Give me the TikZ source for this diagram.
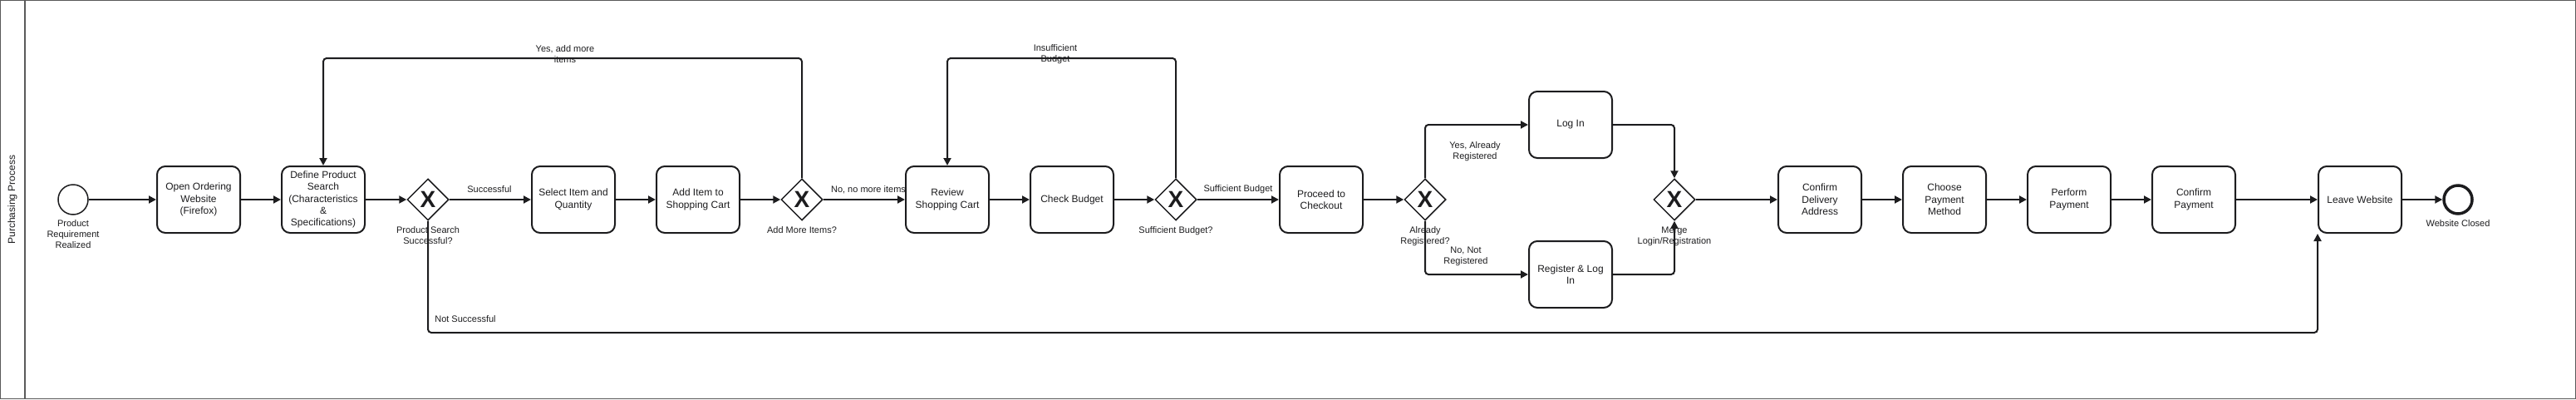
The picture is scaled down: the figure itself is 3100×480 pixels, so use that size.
\documentclass[tikz,border=0pt]{standalone}
\usepackage{fontspec}
\setmainfont{Liberation Sans}
\usepackage{tikz}
\usetikzlibrary{shapes,arrows.meta,positioning}
\usepackage{xcolor}
\definecolor{flowInk}{RGB}{28,28,30}
\definecolor{laneGray}{RGB}{90,90,90}
\tikzset{
  task/.style={rectangle,rounded corners=10pt,draw=flowInk,line width=2pt,
               minimum width=100pt,minimum height=80pt,inner sep=2pt,align=center,
               text=flowInk,font=\fontsize{12}{14.4}\selectfont},
  gateway/.style={diamond,draw=flowInk,line width=1.5pt,minimum width=50pt,
                  minimum height=50pt,inner sep=0pt,text=flowInk,
                  font=\fontsize{28}{28}\selectfont\bfseries},
  startevent/.style={circle,draw=flowInk,line width=1.5pt,minimum size=36pt,inner sep=0pt},
  endevent/.style={circle,draw=flowInk,line width=3.5pt,minimum size=34pt,inner sep=0pt},
  tag/.style={inner sep=0pt,align=center,text=flowInk,font=\fontsize{11}{13}\selectfont},
  flow/.style={draw=flowInk,line width=2pt,rounded corners=4pt,
               -{Triangle[length=9pt,width=9pt]}}
}
\begin{document}
\begin{tikzpicture}[x=1pt,y=-1pt]
    \useasboundingbox (0,0) rectangle (3100,480);
    \draw[laneGray,line width=1pt] (0.5,0.5) rectangle (3099.5,479.5);
    \draw[laneGray,line width=2pt] (30,0) -- (30,480);
    \node[rotate=90,text=flowInk,font=\fontsize{12}{14.4}\selectfont] (laneTitle) at (15,240) {Purchasing Process};

    \coordinate (topRail) at (0,70);
    \coordinate (bottomRail) at (0,400);

    \node[startevent] (startEv) at (88,240) {};
    \node[task] (openSite) at (239,240) {Open Ordering\\Website\\(Firefox)};
    \node[task] (defineSearch) at (389,240) {Define Product\\Search\\(Characteristics\\\&\\Specifications)};
    \node[gateway] (gwSearch) at (515,240) {X};
    \node[task] (selectItem) at (690,240) {Select Item and\\Quantity};
    \node[task] (addItem) at (840,240) {Add Item to\\Shopping Cart};
    \node[gateway] (gwMore) at (965,240) {X};
    \node[task] (reviewCart) at (1140,240) {Review\\Shopping Cart};
    \node[task] (checkBudget) at (1290,240) {Check Budget};
    \node[gateway] (gwBudget) at (1415,240) {X};
    \node[task] (checkout) at (1590,240) {Proceed to\\Checkout};
    \node[gateway] (gwReg) at (1715,240) {X};
    \node[task] (logIn) at (1890,150) {Log In};
    \node[task] (registerIn) at (1890,330) {Register \& Log\\In};
    \node[gateway] (gwMerge) at (2015,240) {X};
    \node[task] (confDelivery) at (2190,240) {Confirm\\Delivery\\Address};
    \node[task] (choosePay) at (2340,240) {Choose\\Payment\\Method};
    \node[task] (performPay) at (2490,240) {Perform\\Payment};
    \node[task] (confPay) at (2640,240) {Confirm\\Payment};
    \node[task] (leaveSite) at (2840,240) {Leave Website};
    \node[endevent] (endEv) at (2958,240) {};

    \node[tag,below=6pt of startEv] (startTag) {Product\\Requirement\\Realized};
    \node[tag,below=7pt of gwSearch] (searchTag) {Product Search\\Successful?};
    \node[tag,below=7pt of gwMore] (moreTag) {Add More Items?};
    \node[tag,below=7pt of gwBudget] (budgetTag) {Sufficient Budget?};
    \node[tag,below=7pt of gwReg] (regTag) {Already\\Registered?};
    \node[tag,below=7pt of gwMerge] (mergeTag) {Merge\\Login/Registration};
    \node[tag,below=6pt of endEv] (endTag) {Website Closed};

    \draw[flow] (startEv) -- (openSite);
    \draw[flow] (openSite) -- (defineSearch);
    \draw[flow] (defineSearch) -- (gwSearch);
    \draw[flow] (gwSearch) -- (selectItem);
    \draw[flow] (selectItem) -- (addItem);
    \draw[flow] (addItem) -- (gwMore);
    \draw[flow] (gwMore.north) -- (gwMore.north |- topRail) -| (defineSearch.north);
    \draw[flow] (gwMore) -- (reviewCart);
    \draw[flow] (reviewCart) -- (checkBudget);
    \draw[flow] (checkBudget) -- (gwBudget);
    \draw[flow] (gwBudget.north) -- (gwBudget.north |- topRail) -| (reviewCart.north);
    \draw[flow] (gwBudget) -- (checkout);
    \draw[flow] (checkout) -- (gwReg);
    \draw[flow] (gwReg.north) |- (logIn.west);
    \draw[flow] (gwReg.south) |- (registerIn.west);
    \draw[flow] (logIn.east) -| (gwMerge.north);
    \draw[flow] (registerIn.east) -| (gwMerge.south);
    \draw[flow] (gwMerge) -- (confDelivery);
    \draw[flow] (confDelivery) -- (choosePay);
    \draw[flow] (choosePay) -- (performPay);
    \draw[flow] (performPay) -- (confPay);
    \draw[flow] (confPay) -- (leaveSite);
    \draw[flow] (gwSearch.south) -- (gwSearch.south |- bottomRail) -| (leaveSite.south west);
    \draw[flow] (leaveSite) -- (endEv);

    \node[tag] (succTag) at (589,228) {Successful};
    \node[tag] (yesMoreTag) at (680,65) {Yes, add more\\items};
    \node[tag] (noMoreTag) at (1045,228) {No, no more items};
    \node[tag] (insuffTag) at (1270,65) {Insufficient\\Budget};
    \node[tag] (suffTag) at (1490,228) {Sufficient Budget};
    \node[tag] (yesRegTag) at (1775,182) {Yes, Already\\Registered};
    \node[tag] (noRegTag) at (1764,308) {No, Not\\Registered};
    \node[tag] (notSuccTag) at (560,384) {Not Successful};
\end{tikzpicture}
\end{document}
